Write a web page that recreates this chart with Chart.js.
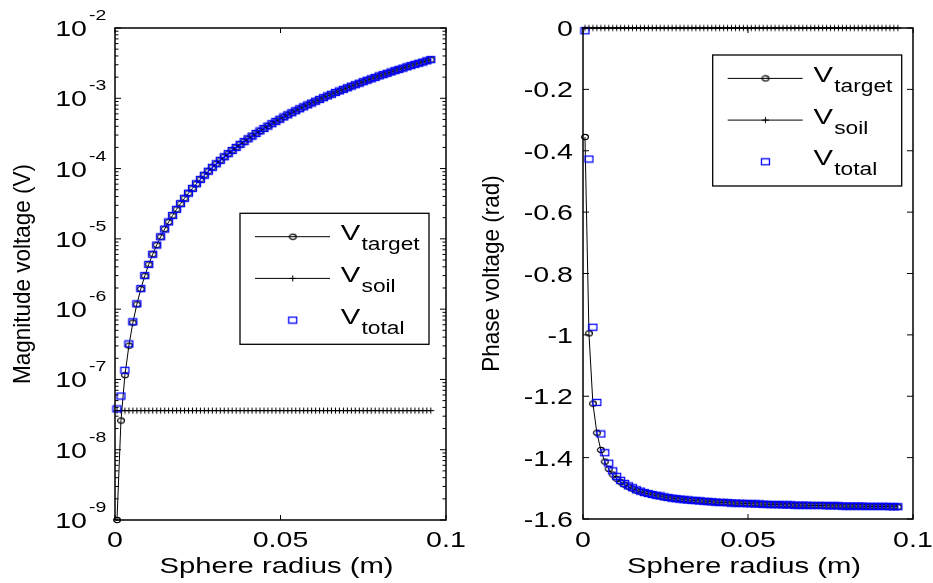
<!DOCTYPE html>
<html>
<head>
<meta charset="utf-8">
<script src="https://cdn.jsdelivr.net/npm/chart.js@4.4.1/dist/chart.umd.min.js"></script>
<style>
  html, body { margin: 0; padding: 0; background: #fff; }
  #wrap { position: relative; width: 933px; height: 583px; }
  canvas { position: absolute; left: 0; top: 0; }
</style>
</head>
<body>
<div id="wrap">
  <canvas id="magChart" width="933" height="583"></canvas>
  <canvas id="phaseChart" width="933" height="583"></canvas>
</div>
<script>
// Sphere radius (m), shared by both panels
const radius = [
  0.0006, 0.0018, 0.0030, 0.0042, 0.0054, 0.0066, 0.0078, 0.0090, 0.0102, 0.0114,
  0.0126, 0.0138, 0.0150, 0.0162, 0.0174, 0.0186, 0.0198, 0.0210, 0.0222, 0.0234,
  0.0246, 0.0258, 0.0270, 0.0282, 0.0294, 0.0306, 0.0318, 0.0330, 0.0342, 0.0354,
  0.0366, 0.0378, 0.0390, 0.0402, 0.0414, 0.0426, 0.0438, 0.0450, 0.0462, 0.0474,
  0.0486, 0.0498, 0.0510, 0.0522, 0.0534, 0.0546, 0.0558, 0.0570, 0.0582, 0.0594,
  0.0606, 0.0618, 0.0630, 0.0642, 0.0654, 0.0666, 0.0678, 0.0690, 0.0702, 0.0714,
  0.0726, 0.0738, 0.0750, 0.0762, 0.0774, 0.0786, 0.0798, 0.0810, 0.0822, 0.0834,
  0.0846, 0.0858, 0.0870, 0.0882, 0.0894, 0.0906, 0.0918, 0.0930, 0.0942, 0.0954
]

// Magnitude voltage (V)
const targetMag = [
  1.0e-9, 2.6e-8, 1.15e-7, 3.03e-7, 6.43e-7, 1.17e-6, 1.94e-6, 2.98e-6, 4.33e-6, 6.05e-6,
  8.17e-6, 1.07e-5, 1.38e-5, 1.74e-5, 2.15e-5, 2.63e-5, 3.17e-5, 3.78e-5, 4.47e-5, 5.23e-5,
  6.08e-5, 7.01e-5, 8.04e-5, 9.16e-5, 1.04e-4, 1.17e-4, 1.31e-4, 1.47e-4, 1.63e-4, 1.81e-4,
  2.00e-4, 2.21e-4, 2.42e-4, 2.65e-4, 2.90e-4, 3.16e-4, 3.43e-4, 3.72e-4, 4.03e-4, 4.35e-4,
  4.69e-4, 5.04e-4, 5.42e-4, 5.81e-4, 6.22e-4, 6.65e-4, 7.09e-4, 7.56e-4, 8.05e-4, 8.56e-4,
  9.09e-4, 9.64e-4, 1.02e-3, 1.08e-3, 1.14e-3, 1.21e-3, 1.27e-3, 1.34e-3, 1.41e-3, 1.49e-3,
  1.56e-3, 1.64e-3, 1.72e-3, 1.81e-3, 1.89e-3, 1.98e-3, 2.08e-3, 2.17e-3, 2.27e-3, 2.37e-3,
  2.47e-3, 2.58e-3, 2.69e-3, 2.80e-3, 2.92e-3, 3.04e-3, 3.16e-3, 3.28e-3, 3.41e-3, 3.55e-3
]
const soilMag = [
  3.6e-8, 3.6e-8, 3.6e-8, 3.6e-8, 3.6e-8, 3.6e-8, 3.6e-8, 3.6e-8, 3.6e-8, 3.6e-8,
  3.6e-8, 3.6e-8, 3.6e-8, 3.6e-8, 3.6e-8, 3.6e-8, 3.6e-8, 3.6e-8, 3.6e-8, 3.6e-8,
  3.6e-8, 3.6e-8, 3.6e-8, 3.6e-8, 3.6e-8, 3.6e-8, 3.6e-8, 3.6e-8, 3.6e-8, 3.6e-8,
  3.6e-8, 3.6e-8, 3.6e-8, 3.6e-8, 3.6e-8, 3.6e-8, 3.6e-8, 3.6e-8, 3.6e-8, 3.6e-8,
  3.6e-8, 3.6e-8, 3.6e-8, 3.6e-8, 3.6e-8, 3.6e-8, 3.6e-8, 3.6e-8, 3.6e-8, 3.6e-8,
  3.6e-8, 3.6e-8, 3.6e-8, 3.6e-8, 3.6e-8, 3.6e-8, 3.6e-8, 3.6e-8, 3.6e-8, 3.6e-8,
  3.6e-8, 3.6e-8, 3.6e-8, 3.6e-8, 3.6e-8, 3.6e-8, 3.6e-8, 3.6e-8, 3.6e-8, 3.6e-8,
  3.6e-8, 3.6e-8, 3.6e-8, 3.6e-8, 3.6e-8, 3.6e-8, 3.6e-8, 3.6e-8, 3.6e-8, 3.6e-8
]
const totalMag = [
  3.8e-8, 5.8e-8, 1.35e-7, 3.2e-7, 6.6e-7, 1.19e-6, 1.96e-6, 3.00e-6, 4.33e-6, 6.05e-6,
  8.17e-6, 1.07e-5, 1.38e-5, 1.74e-5, 2.15e-5, 2.63e-5, 3.17e-5, 3.78e-5, 4.47e-5, 5.23e-5,
  6.08e-5, 7.01e-5, 8.04e-5, 9.16e-5, 1.04e-4, 1.17e-4, 1.31e-4, 1.47e-4, 1.63e-4, 1.81e-4,
  2.00e-4, 2.21e-4, 2.42e-4, 2.65e-4, 2.90e-4, 3.16e-4, 3.43e-4, 3.72e-4, 4.03e-4, 4.35e-4,
  4.69e-4, 5.04e-4, 5.42e-4, 5.81e-4, 6.22e-4, 6.65e-4, 7.09e-4, 7.56e-4, 8.05e-4, 8.56e-4,
  9.09e-4, 9.64e-4, 1.02e-3, 1.08e-3, 1.14e-3, 1.21e-3, 1.27e-3, 1.34e-3, 1.41e-3, 1.49e-3,
  1.56e-3, 1.64e-3, 1.72e-3, 1.81e-3, 1.89e-3, 1.98e-3, 2.08e-3, 2.17e-3, 2.27e-3, 2.37e-3,
  2.47e-3, 2.58e-3, 2.69e-3, 2.80e-3, 2.92e-3, 3.04e-3, 3.16e-3, 3.28e-3, 3.41e-3, 3.55e-3
]

// Phase voltage (rad)
const targetPhase = [
  -0.355, -0.995, -1.224, -1.319, -1.375, -1.413, -1.437, -1.455, -1.469, -1.480,
  -1.488, -1.495, -1.501, -1.507, -1.511, -1.515, -1.518, -1.521, -1.524, -1.526,
  -1.529, -1.530, -1.532, -1.534, -1.535, -1.537, -1.538, -1.539, -1.540, -1.541,
  -1.542, -1.543, -1.544, -1.545, -1.546, -1.546, -1.547, -1.548, -1.548, -1.549,
  -1.549, -1.550, -1.550, -1.551, -1.551, -1.552, -1.552, -1.553, -1.553, -1.553,
  -1.554, -1.554, -1.554, -1.555, -1.555, -1.555, -1.555, -1.556, -1.556, -1.556,
  -1.556, -1.557, -1.557, -1.557, -1.557, -1.558, -1.558, -1.558, -1.558, -1.558,
  -1.558, -1.559, -1.559, -1.559, -1.559, -1.559, -1.559, -1.560, -1.560, -1.560
]
const soilPhase = [
  0, 0, 0, 0, 0, 0, 0, 0, 0, 0,
  0, 0, 0, 0, 0, 0, 0, 0, 0, 0,
  0, 0, 0, 0, 0, 0, 0, 0, 0, 0,
  0, 0, 0, 0, 0, 0, 0, 0, 0, 0,
  0, 0, 0, 0, 0, 0, 0, 0, 0, 0,
  0, 0, 0, 0, 0, 0, 0, 0, 0, 0,
  0, 0, 0, 0, 0, 0, 0, 0, 0, 0,
  0, 0, 0, 0, 0, 0, 0, 0, 0, 0
]
const totalPhase = [
  -0.009, -0.427, -0.975, -1.220, -1.323, -1.384, -1.418, -1.443, -1.461, -1.474,
  -1.484, -1.492, -1.498, -1.505, -1.509, -1.514, -1.517, -1.520, -1.523, -1.525,
  -1.528, -1.530, -1.532, -1.534, -1.535, -1.537, -1.538, -1.539, -1.540, -1.541,
  -1.542, -1.543, -1.544, -1.545, -1.546, -1.546, -1.547, -1.548, -1.548, -1.549,
  -1.549, -1.550, -1.550, -1.551, -1.551, -1.552, -1.552, -1.553, -1.553, -1.553,
  -1.554, -1.554, -1.554, -1.555, -1.555, -1.555, -1.555, -1.556, -1.556, -1.556,
  -1.556, -1.557, -1.557, -1.557, -1.557, -1.558, -1.558, -1.558, -1.558, -1.558,
  -1.558, -1.559, -1.559, -1.559, -1.559, -1.559, -1.559, -1.560, -1.560, -1.560
]

// Axis ticks and labels
const xTicks = [0, 0.05, 0.1]
const xTickLabels = ['0', '0.05', '0.1']
const magExponents = [-9, -8, -7, -6, -5, -4, -3, -2]
const phaseTicks = [0, -0.2, -0.4, -0.6, -0.8, -1, -1.2, -1.4, -1.6]
const phaseTickLabels = ['0', '-0.2', '-0.4', '-0.6', '-0.8', '-1', '-1.2', '-1.4', '-1.6']
const legendNames = ['target', 'soil', 'total']

const FONT = "'Liberation Sans', Arial, Helvetica, sans-serif"
const SX = 1.3 // text in the original is drawn horizontally stretched

// MATLAB style markers (slightly wide, like the original)
function markerCanvas(w, h, draw) {
  const c = document.createElement('canvas')
  c.width = w
  c.height = h
  draw(c.getContext('2d'), w, h)
  return c
}
const circleMark = markerCanvas(10, 8, (g, w, h) => {
  g.strokeStyle = '#000'
  g.lineWidth = 1.2
  g.beginPath()
  g.ellipse(w / 2, h / 2, 3.4, 2.6, 0, 0, Math.PI * 2)
  g.stroke()
})
const plusMark = markerCanvas(9, 9, (g) => {
  g.strokeStyle = '#000'
  g.lineWidth = 1.1
  g.beginPath()
  g.moveTo(1, 4.5); g.lineTo(8, 4.5)
  g.moveTo(4.5, 1.5); g.lineTo(4.5, 7.5)
  g.stroke()
})
const squareMark = markerCanvas(11, 9, (g) => {
  g.strokeStyle = '#0000ff'
  g.lineWidth = 1.3
  g.strokeRect(1.5, 1.5, 8, 6)
})
const legendMarks = [circleMark, plusMark, squareMark]

function text(ctx, str, x, y, size, align, sx) {
  ctx.save()
  ctx.font = size + 'px ' + FONT
  ctx.textBaseline = 'alphabetic'
  ctx.textAlign = 'left'
  const w = ctx.measureText(str).width * (sx || SX)
  const left = align === 'right' ? x - w : align === 'center' ? x - w / 2 : x
  ctx.translate(left, y)
  ctx.scale(sx || SX, 1)
  ctx.fillStyle = '#000'
  ctx.fillText(str, 0, 0)
  ctx.restore()
  return w
}

function verticalTitle(ctx, str, x, cy) {
  ctx.save()
  ctx.font = '22.5px ' + FONT
  ctx.fillStyle = '#000'
  ctx.textAlign = 'center'
  ctx.textBaseline = 'alphabetic'
  ctx.translate(x, cy)
  ctx.scale(1.1, 1)
  ctx.rotate(-Math.PI / 2)
  ctx.fillText(str, 0, 0)
  ctx.restore()
}

function drawLegend(ctx, left, top) {
  const w = 189, h = 131
  ctx.save()
  ctx.fillStyle = '#fff'
  ctx.fillRect(left, top, w, h)
  ctx.strokeStyle = '#000'
  ctx.lineWidth = 1.3
  ctx.strokeRect(left, top, w, h)
  legendNames.forEach((name, i) => {
    const cy = top + 23.4 + i * 41.7
    if (i < 2) {
      ctx.lineWidth = 1
      ctx.beginPath()
      ctx.moveTo(left + 15, cy)
      ctx.lineTo(left + 90, cy)
      ctx.stroke()
    }
    const m = legendMarks[i]
    ctx.drawImage(m, left + 52.7 - m.width / 2, cy - m.height / 2)
    text(ctx, 'V', left + 100.7, cy + 3.5, 22.5, 'left')
    text(ctx, name, left + 121.5, cy + 13.5, 17.5, 'left')
  })
  ctx.restore()
}

function framePlugin(cfg) {
  return {
    id: 'frame',
    afterDraw(chart) {
      const ctx = chart.ctx
      const a = chart.chartArea
      const xs = chart.scales.x
      const ys = chart.scales.y
      ctx.save()
      ctx.strokeStyle = '#000'
      ctx.lineWidth = 1
      ctx.beginPath()
      xTicks.forEach(v => {
        const p = xs.getPixelForValue(v)
        ctx.moveTo(p, a.bottom); ctx.lineTo(p, a.bottom - 5)
        ctx.moveTo(p, a.top); ctx.lineTo(p, a.top + 5)
      })
      cfg.majorTicks.forEach(v => {
        const p = ys.getPixelForValue(v)
        ctx.moveTo(a.left, p); ctx.lineTo(a.left + 6, p)
        ctx.moveTo(a.right, p); ctx.lineTo(a.right - 6, p)
      })
      cfg.minorTicks.forEach(v => {
        const p = ys.getPixelForValue(v)
        ctx.moveTo(a.left, p); ctx.lineTo(a.left + 3.5, p)
        ctx.moveTo(a.right, p); ctx.lineTo(a.right - 3.5, p)
      })
      ctx.stroke()
      ctx.lineWidth = 1.5
      ctx.strokeRect(a.left, a.top, a.right - a.left, a.bottom - a.top)

      // x tick labels and title
      xTicks.forEach((v, i) => {
        text(ctx, xTickLabels[i], xs.getPixelForValue(v), 547, 22, 'center')
      })
      text(ctx, 'Sphere radius (m)', (a.left + a.right) / 2 - 4, 573, 22.5, 'center')

      cfg.drawYLabels(ctx, a, ys)
      verticalTitle(ctx, cfg.yTitle, cfg.yTitleX, (a.top + a.bottom) / 2)
      drawLegend(ctx, cfg.legendLeft, cfg.legendTop)
      ctx.restore()
    }
  }
}

function points(ys) {
  return radius.map((r, i) => ({ x: r, y: ys[i] }))
}

function buildChart(id, cfg) {
  return new Chart(document.getElementById(id), {
    type: 'line',
    data: {
      datasets: [
        { label: 'V target', data: points(cfg.target), borderColor: '#000', borderWidth: 1,
          pointStyle: circleMark, pointRadius: 4, order: 2, clip: false },
        { label: 'V soil', data: points(cfg.soil), borderColor: '#000', borderWidth: 1,
          pointStyle: plusMark, pointRadius: 4, order: 1, clip: false },
        { label: 'V total', data: points(cfg.total), showLine: false,
          pointStyle: squareMark, pointRadius: 4, order: 0, clip: false }
      ]
    },
    options: {
      responsive: false,
      animation: false,
      devicePixelRatio: 1,
      events: [],
      layout: { padding: cfg.padding },
      elements: { line: { tension: 0 } },
      plugins: { legend: { display: false }, tooltip: { enabled: false } },
      scales: {
        x: {
          type: 'linear', min: 0, max: 0.1,
          ticks: { display: false }, grid: { display: false }, border: { display: false },
          afterFit: s => { s.height = cfg.xAxisHeight }
        },
        y: {
          type: cfg.yType, min: cfg.yMin, max: cfg.yMax,
          ticks: { display: false }, grid: { display: false }, border: { display: false },
          afterFit: s => { s.width = cfg.yAxisWidth }
        }
      }
    },
    plugins: [framePlugin(cfg)]
  })
}

// log minor ticks 2..9 per decade
const magMinor = []
magExponents.slice(0, -1).forEach(e => {
  for (let m = 2; m <= 9; m++) magMinor.push(m * Math.pow(10, e))
})

buildChart('magChart', {
  target: targetMag, soil: soilMag, total: totalMag,
  yType: 'logarithmic', yMin: 1e-9, yMax: 1e-2,
  padding: { top: 28, right: 487, left: 0, bottom: 0 },
  yAxisWidth: 115, xAxisHeight: 63,
  majorTicks: magExponents.map(e => Math.pow(10, e)),
  minorTicks: magMinor,
  yTitle: 'Magnitude voltage (V)', yTitleX: 29.5,
  legendLeft: 240, legendTop: 213.3,
  drawYLabels(ctx, a, ys) {
    magExponents.forEach(e => {
      const p = ys.getPixelForValue(Math.pow(10, e))
      text(ctx, '10', a.left - 28, p + 8, 22, 'right')
      text(ctx, String(e), a.left - 26, p - 8, 15, 'left')
    })
  }
})

buildChart('phaseChart', {
  target: targetPhase, soil: soilPhase, total: totalPhase,
  yType: 'linear', yMin: -1.6, yMax: 0,
  padding: { top: 28, right: 20, left: 0, bottom: 0 },
  yAxisWidth: 583, xAxisHeight: 64,
  majorTicks: phaseTicks,
  minorTicks: [],
  yTitle: 'Phase voltage (rad)', yTitleX: 498.5,
  legendLeft: 712.7, legendTop: 55,
  drawYLabels(ctx, a, ys) {
    phaseTicks.forEach((v, i) => {
      text(ctx, phaseTickLabels[i], a.left - 10, ys.getPixelForValue(v) + 8, 22, 'right')
    })
  }
})
</script>
</body>
</html>
